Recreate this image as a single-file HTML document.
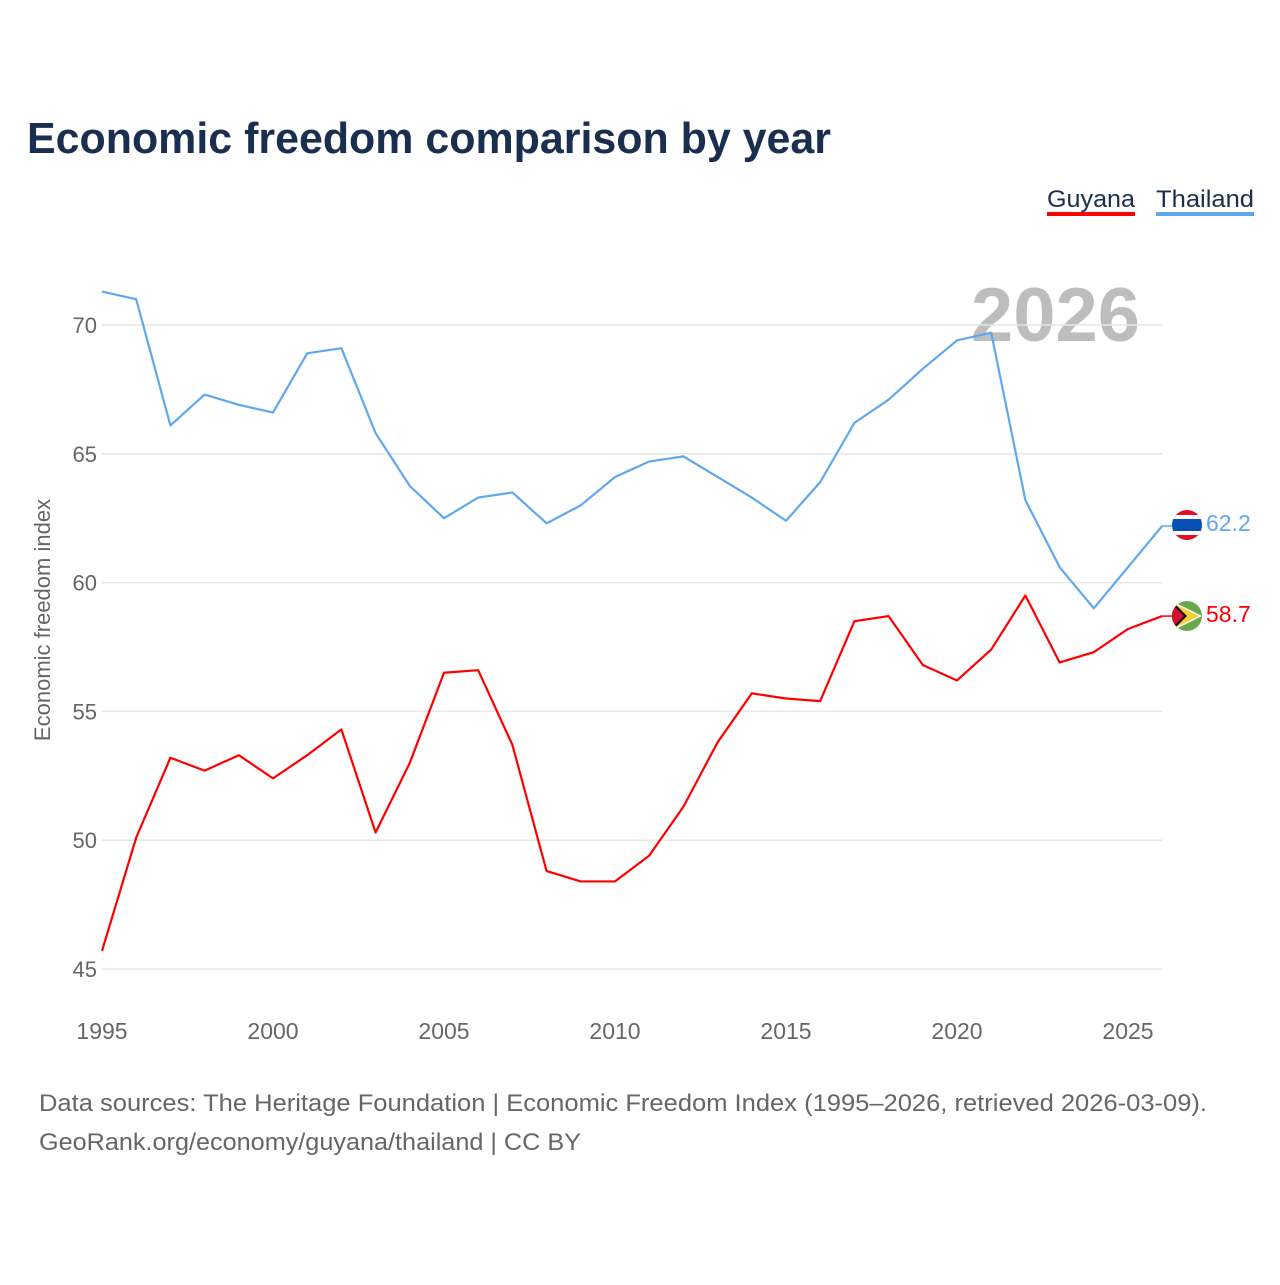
<!DOCTYPE html>
<html><head><meta charset="utf-8"><style>
body{margin:0;background:#fff;font-family:"Liberation Sans",sans-serif;}
</style></head><body>
<svg id="chart" width="1280" height="1280" viewBox="0 0 1280 1280">
<defs>
<clipPath id="cth"><circle cx="1187" cy="525" r="15"/></clipPath>
<clipPath id="cgy"><circle cx="1187" cy="616" r="15"/></clipPath>
</defs>
<text x="27" y="153" font-size="44" font-weight="bold" fill="#1a2e4f" textLength="804" lengthAdjust="spacingAndGlyphs">Economic freedom comparison by year</text>
<g><text x="1047" y="207" font-size="24" fill="#1a2e4f" textLength="88" lengthAdjust="spacingAndGlyphs">Guyana</text><rect x="1047" y="212" width="88" height="4" fill="#ff0000"/></g>
<g><text x="1156" y="207" font-size="24" fill="#1a2e4f" textLength="98" lengthAdjust="spacingAndGlyphs">Thailand</text><rect x="1156" y="212" width="98" height="4" fill="#5fa8ec"/></g>
<text x="1140" y="341" font-size="76" font-weight="bold" fill="#bdbdbd" text-anchor="end">2026</text>
<g id="grid"></g><g id="xt"></g>
<text transform="translate(50,620) rotate(-90)" font-size="22" fill="#666" text-anchor="middle">Economic freedom index</text>
<g id="lines"></g>
<g clip-path="url(#cth)"><rect x="1172" y="510" width="30" height="30" fill="#e0102a"/><rect x="1172" y="515" width="30" height="20" fill="#fff"/><rect x="1172" y="519" width="30" height="12" fill="#0a4fb5"/></g>
<g clip-path="url(#cgy)"><rect x="1172" y="601" width="30" height="30" fill="#6aa84f"/><polygon points="1172,601 1202,616 1172,631" fill="#fff"/><polygon points="1172,603 1199,616 1172,629" fill="#f5d130"/><polygon points="1172,601 1187,616 1172,631" fill="#111"/><polygon points="1172,604 1184,616 1172,628" fill="#d7102a"/></g>
<text x="1206" y="531" font-size="23" fill="#5fa8ec">62.2</text>
<text x="1206" y="622" font-size="23" fill="#ff0000">58.7</text>
<text x="39" y="1111" font-size="24" fill="#666" textLength="1168" lengthAdjust="spacingAndGlyphs">Data sources: The Heritage Foundation | Economic Freedom Index (1995–2026, retrieved 2026-03-09).</text>
<text x="39" y="1150" font-size="24" fill="#666" textLength="542" lengthAdjust="spacingAndGlyphs">GeoRank.org/economy/guyana/thailand | CC BY</text>
</svg>
<script>
const years=[1995,1996,1997,1998,1999,2000,2001,2002,2003,2004,2005,2006,2007,2008,2009,2010,2011,2012,2013,2014,2015,2016,2017,2018,2019,2020,2021,2022,2023,2024,2025,2026];
const thailand=[71.3,71.0,66.1,67.3,66.9,66.6,68.9,69.1,65.8,63.75,62.5,63.3,63.5,62.3,63.0,64.1,64.7,64.9,64.1,63.3,62.4,63.9,66.2,67.1,68.3,69.4,69.7,63.2,60.6,59.0,60.6,62.2];
const guyana=[45.7,50.1,53.2,52.7,53.3,52.4,53.3,54.3,50.3,53.0,56.5,56.6,53.7,48.8,48.4,48.4,49.4,51.3,53.8,55.7,55.5,55.4,58.5,58.7,56.8,56.2,57.4,59.5,56.9,57.3,58.2,58.7];
const yTicks=[45,50,55,60,65,70];
const xTicks=[1995,2000,2005,2010,2015,2020,2025];
const NS="http://www.w3.org/2000/svg";
const X=v=>102+(v-1995)*(1128-102)/30;
const Y=v=>325+(70-v)*(969-325)/25;
function mk(t,a,p){const e=document.createElementNS(NS,t);for(const k in a)e.setAttribute(k,a[k]);p.appendChild(e);return e;}
const g=document.getElementById('grid');
yTicks.forEach(v=>{
 const l=mk('line',{x1:102,x2:1162,y1:Y(v),y2:Y(v),stroke:'#e6e6e6','stroke-width':1.5},g);
 
 
 const t=mk('text',{x:97,y:Y(v)+8,'font-size':22,fill:'#666','text-anchor':'end'},g);
 t.textContent=v;
 
 
});
const xt=document.getElementById('xt');
xTicks.forEach(v=>{
 const t=mk('text',{x:X(v),y:1039,'font-size':23,fill:'#666','text-anchor':'middle'},xt);
 t.textContent=v;
 
 
});
const L=document.getElementById('lines');
function line(d,c,n){
 const p=mk('polyline',{points:d.map((v,i)=>X(years[i])+','+Y(v)).join(' '),fill:'none',stroke:c,'stroke-width':2.2,'stroke-linejoin':'round'},L);
 
 
 const last=d[d.length-1];
 mk('line',{x1:X(2026),x2:1172,y1:Y(last),y2:Y(last),stroke:c,'stroke-width':1.5},L);
}
line(thailand,'#5fa8ec','thailand-line');
line(guyana,'#ff0000','guyana-line');
</script>
</body></html>
